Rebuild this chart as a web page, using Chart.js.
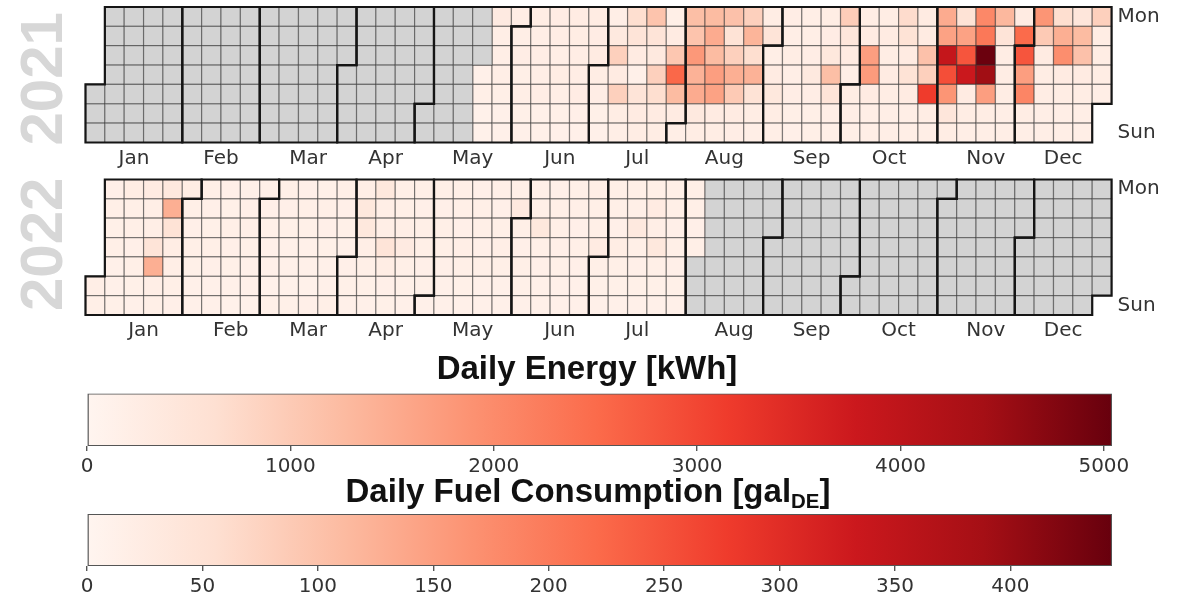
<!DOCTYPE html>
<html lang="en">
<head>
<meta charset="UTF-8">
<title>Daily Energy Calendar</title>
<script src="https://cdn.jsdelivr.net/npm/chart.js"></script>
<style>
    body { margin: 0; background: #fff; }
    #wrap { position: relative; width: 1180px; height: 613px; overflow: hidden; }
    #wrap canvas { position: absolute; left: 0; top: 0; }
    .cbtitle {
        position: absolute;
        transform: translate(-50%, -50%);
        font-family: "Liberation Sans", Arial, sans-serif;
        font-weight: bold;
        font-size: 33px;
        color: #111;
        white-space: nowrap;
        line-height: 1;
    }
    .cbtitle sub { font-size: 0.62em; vertical-align: -0.3em; line-height: 0; }
</style>
</head>
<body>
<div id="wrap">
    <canvas id="heat2021" width="1180" height="613"></canvas>
    <canvas id="heat2022" width="1180" height="613"></canvas>
    <canvas id="barEnergy" width="1180" height="613"></canvas>
    <canvas id="barFuel" width="1180" height="613"></canvas>
    <div class="cbtitle" style="left:587px; top:367px;">Daily Energy [kWh]</div>
    <div class="cbtitle" style="left:588px; top:490px;">Daily Fuel Consumption [gal<sub>DE</sub>]</div>
</div>

<script>
// daily energy in kWh, one array per month (2021 data starts on May 20)
const may2021 = [150, 180, 120, 130, 320, 220, 200, 210, 190, 140, 150, 230];
const jun2021 = [210, 230, 190, 200, 160, 140, 250, 220, 240, 200, 230, 150, 140, 260, 240,
                 220, 250, 210, 160, 150, 270, 250, 230, 240, 260, 170, 150, 280, 260, 300];
const jul2021 = [250, 230, 160, 150, 200, 350, 900, 300, 900, 250, 200, 650, 500, 300, 150, 500,
                 300, 250, 1100, 500, 350, 900, 650, 300, 250, 180, 300, 1050, 2550, 1250, 300];
const aug2021 = [200, 1200, 1100, 1800, 1400, 1500, 350, 250, 1250, 1500, 1250, 1700, 1650, 300, 250, 1150,
                 550, 900, 1450, 1000, 300, 230, 900, 1350, 650, 1400, 550, 250, 220, 250, 500];
const sep2021 = [200, 300, 400, 250, 200, 230, 210, 250, 220, 240, 180, 170, 220, 200, 230,
                 350, 240, 190, 180, 250, 260, 400, 1200, 500, 200, 190, 950, 450, 300, 200];
const oct2021 = [250, 200, 180, 250, 300, 1700, 1750, 300, 200, 200, 250, 300, 250, 300, 250, 200,
                 200, 700, 550, 300, 550, 300, 220, 200, 300, 300, 1150, 900, 3150, 250, 200];
const nov2021 = [1500, 1650, 3900, 2900, 1850, 450, 250, 550, 1650, 2800, 3800, 300, 250, 220, 2050,
                 2300, 5000, 4450, 1700, 250, 200, 1300, 500, 250, 250, 250, 200, 200, 300, 2500];
const dec2021 = [2800, 1700, 2100, 250, 200, 1850, 1000, 300, 250, 250, 200, 200, 650, 1450, 1950, 300,
                 250, 200, 200, 450, 1250, 1150, 300, 250, 200, 200, 900, 250, 250, 250, 200];

// 2022 data runs from Jan 1 to Aug 4
const jan2022 = [200, 180, 170, 190, 160, 180, 150, 140, 160, 250, 180, 190, 170, 180, 160, 150,
                 300, 200, 200, 500, 1450, 200, 180, 380, 1450, 550, 250, 200, 180, 170, 250];
const feb2022 = [190, 170, 180, 160, 140, 150, 180, 170, 160, 190, 170, 150, 140, 170,
                 160, 180, 170, 160, 140, 130, 160, 170, 180, 160, 150, 140, 130, 170];
const mar2022 = [170, 160, 150, 140, 130, 160, 180, 170, 160, 150, 140, 130, 160, 170, 180, 160,
                 150, 140, 130, 170, 160, 180, 170, 160, 150, 140, 190, 180, 170, 160, 150];
const apr2022 = [170, 160, 150, 200, 400, 400, 200, 180, 160, 150, 400, 200, 200, 500, 250,
                 170, 160, 190, 180, 200, 320, 190, 160, 150, 180, 170, 190, 180, 170, 160];
const may2022 = [150, 180, 170, 190, 180, 170, 150, 140, 190, 180, 170, 200, 180, 160, 150, 170,
                 180, 190, 170, 180, 150, 140, 180, 170, 190, 200, 180, 150, 140, 190, 350];
const jun2022 = [180, 170, 190, 160, 150, 180, 190, 400, 180, 170, 150, 140, 170, 180, 190,
                 170, 160, 150, 140, 180, 190, 170, 180, 170, 150, 140, 200, 190, 180, 300];
const jul2022 = [180, 160, 150, 190, 180, 170, 250, 180, 160, 150, 180, 190, 350, 180, 170, 160,
                 150, 190, 300, 200, 400, 180, 160, 150, 180, 190, 170, 180, 170, 160, 150];
const aug2022 = [180, 190, 170, 180];

const start2021 = [2021, 4, 20];
const start2022 = [2022, 0, 1];

const monthNames = ['Jan', 'Feb', 'Mar', 'Apr', 'May', 'Jun', 'Jul', 'Aug', 'Sep', 'Oct', 'Nov', 'Dec'];
const dayLabels = ['Mon', 'Sun'];
const dayTicks = [0.5, 6.5];

const energyMax = 5040;
const fuelMax = 444;
const energyTicks = [0, 1000, 2000, 3000, 4000, 5000];
const fuelTicks = [0, 50, 100, 150, 200, 250, 300, 350, 400];

const redsStops = ['#fff5f0', '#fee0d2', '#fcbba1', '#fc9272', '#fb6a4a', '#ef3b2c', '#cb181d', '#a50f15', '#67000d'];

const DAY = 86400000;
const tickFont = { family: 'DejaVu Sans', size: 20 };
const tickColor = '#333';

function hexRgb(h) {
    return [1, 3, 5].map(i => parseInt(h.substr(i, 2), 16));
}

function reds(t) {
    t = Math.max(0, Math.min(1, t));
    const p = t * (redsStops.length - 1);
    const i = Math.min(Math.floor(p), redsStops.length - 2);
    const f = p - i;
    const a = hexRgb(redsStops[i]), b = hexRgb(redsStops[i + 1]);
    const c = a.map((v, k) => Math.round(v + (b[k] - v) * f));
    return `rgb(${c[0]},${c[1]},${c[2]})`;
}

// turn one year of daily values into calendar cells (x = week column, y = weekday row)
function buildYear(year, first, months) {
    const values = [].concat(...months);
    const jan1 = Date.UTC(year, 0, 1);
    const offset = (new Date(jan1).getUTCDay() + 6) % 7;
    const nDays = (Date.UTC(year + 1, 0, 1) - jan1) / DAY;
    const startDay = (Date.UTC(first[0], first[1], first[2]) - jan1) / DAY;
    const cell = d => ({ col: Math.floor((d + offset) / 7), row: (d + offset) % 7 });

    const filled = [], empty = [];
    for (let d = 0; d < nDays; d++) {
        const { col, row } = cell(d);
        const k = d - startDay;
        if (k >= 0 && k < values.length) filled.push({ x: col + 0.5, y: row + 0.5, v: values[k] });
        else empty.push({ x: col + 0.5, y: row + 0.5 });
    }

    const outlines = [], centers = [];
    for (let m = 0; m < 12; m++) {
        const a = cell((Date.UTC(year, m, 1) - jan1) / DAY);
        const b = cell((Date.UTC(year, m + 1, 1) - jan1) / DAY - 1);
        outlines.push([[a.col, a.row], [a.col + 1, a.row], [a.col + 1, 0], [b.col + 1, 0],
                       [b.col + 1, b.row + 1], [b.col, b.row + 1], [b.col, 7], [a.col, 7]]);
        centers.push((a.col + b.col + 1) / 2);
    }
    return { filled, empty, outlines, centers };
}

const monthOutline = {
    id: 'monthOutline',
    afterDatasetsDraw(chart, args, opts) {
        const { ctx, scales: { x, y } } = chart;
        ctx.save();
        ctx.strokeStyle = '#151515';
        ctx.lineWidth = 2.2;
        opts.shapes.forEach(pts => {
            ctx.beginPath();
            pts.forEach(([c, r], i) => {
                const px = x.getPixelForValue(c), py = y.getPixelForValue(r);
                if (i) ctx.lineTo(px, py); else ctx.moveTo(px, py);
            });
            ctx.closePath();
            ctx.stroke();
        });
        ctx.restore();
    }
};

const yearLabel = {
    id: 'yearLabel',
    afterDraw(chart, args, opts) {
        const { ctx, chartArea: a } = chart;
        ctx.save();
        ctx.translate(a.left - 40, (a.top + a.bottom) / 2 + opts.dy);
        ctx.rotate(-Math.PI / 2);
        ctx.font = 'bold 60px "Liberation Sans", Arial, sans-serif';
        ctx.fillStyle = '#d7d7d7';
        ctx.textAlign = 'center';
        ctx.textBaseline = 'middle';
        ctx.fillText(opts.text, 0, 0);
        ctx.restore();
    }
};

function cellRadius(c) {
    const x = c.chart.scales.x;
    return (x.getPixelForValue(1) - x.getPixelForValue(0)) / Math.SQRT2;
}

function heatmap(id, year, first, months, top, dy) {
    const cal = buildYear(year, first, months);
    const areaW = 53 * 19.36, areaH = 7 * 19.36;
    const point = {
        pointStyle: 'rect',
        pointRadius: cellRadius,
        pointBorderWidth: 1.2,
        pointBorderColor: 'rgba(45,45,45,0.5)',
        clip: false
    };
    new Chart(document.getElementById(id), {
        type: 'scatter',
        data: {
            datasets: [
                Object.assign({ data: cal.empty, pointBackgroundColor: '#d3d3d3' }, point),
                Object.assign({ data: cal.filled, pointBackgroundColor: c => reds(c.raw.v / energyMax) }, point)
            ]
        },
        options: {
            responsive: false,
            animation: false,
            events: [],
            layout: { padding: { left: 85.5, top: top, right: 1180 - 85.5 - areaW - 60, bottom: 613 - top - areaH - 30 } },
            plugins: {
                legend: { display: false },
                tooltip: { enabled: false },
                monthOutline: { shapes: cal.outlines },
                yearLabel: { text: String(year), dy: dy }
            },
            scales: {
                x: {
                    type: 'linear', min: 0, max: 53, position: 'bottom',
                    grid: { display: false, drawTicks: false },
                    border: { display: false },
                    afterBuildTicks: a => { a.ticks = cal.centers.map(v => ({ value: v })); },
                    afterFit: a => { a.height = 30; a.paddingLeft = 0; a.paddingRight = 0; },
                    ticks: { autoSkip: false, maxRotation: 0, padding: 4, color: tickColor, font: tickFont,
                             callback: (v, i) => monthNames[i] }
                },
                y: {
                    type: 'linear', min: 0, max: 7, reverse: true, position: 'right',
                    grid: { display: false, drawTicks: false },
                    border: { display: false },
                    afterBuildTicks: a => { a.ticks = dayTicks.map(v => ({ value: v })); },
                    afterFit: a => { a.width = 60; a.paddingTop = 0; a.paddingBottom = 0; },
                    ticks: { padding: 6, color: tickColor, font: tickFont,
                             callback: (v, i) => dayLabels[i] }
                }
            }
        },
        plugins: [monthOutline, yearLabel]
    });
}

function colorbar(id, vmax, ticks, top, bottom) {
    new Chart(document.getElementById(id), {
        type: 'bar',
        data: {
            labels: [''],
            datasets: [{
                data: [[0, vmax]],
                backgroundColor: c => {
                    const a = c.chart.chartArea;
                    if (!a) return redsStops[0];
                    const g = c.chart.ctx.createLinearGradient(a.left, 0, a.right, 0);
                    redsStops.forEach((s, i) => g.addColorStop(i / (redsStops.length - 1), s));
                    return g;
                },
                borderColor: '#555',
                borderWidth: 1.4,
                borderSkipped: false,
                barPercentage: 1,
                categoryPercentage: 1
            }]
        },
        options: {
            indexAxis: 'y',
            responsive: false,
            animation: false,
            events: [],
            layout: { padding: { left: 87, right: 68, top: top, bottom: 613 - bottom - 40 } },
            plugins: { legend: { display: false }, tooltip: { enabled: false } },
            scales: {
                x: {
                    type: 'linear', min: 0, max: vmax,
                    grid: { drawOnChartArea: false, tickLength: 5, tickColor: '#555', lineWidth: 1.4 },
                    border: { display: false },
                    afterBuildTicks: a => { a.ticks = ticks.map(v => ({ value: v })); },
                    afterFit: a => { a.height = 40; },
                    ticks: { padding: 4, color: tickColor, font: tickFont, maxRotation: 0, autoSkip: false,
                             callback: v => String(v) }
                },
                y: { display: false }
            }
        }
    });
}

heatmap('heat2021', 2021, start2021,
        [may2021, jun2021, jul2021, aug2021, sep2021, oct2021, nov2021, dec2021], 7, 4);
heatmap('heat2022', 2022, start2022,
        [jan2022, feb2022, mar2022, apr2022, may2022, jun2022, jul2022, aug2022], 179.5, -3);
colorbar('barEnergy', energyMax, energyTicks, 393.5, 446);
colorbar('barFuel', fuelMax, fuelTicks, 514, 566);
</script>
</body>
</html>
